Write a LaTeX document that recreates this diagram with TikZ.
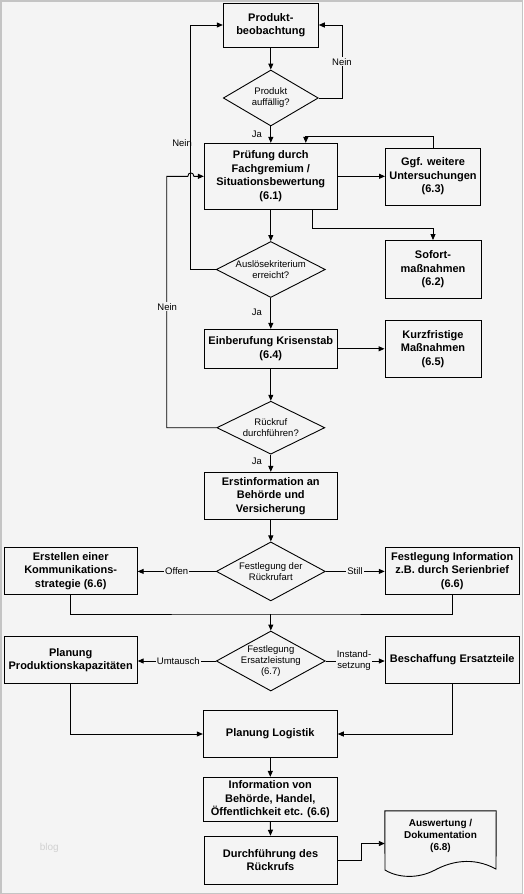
\documentclass[tikz,border=0pt]{standalone}
\usepackage{fontspec}
\setmainfont{Liberation Sans}
\usetikzlibrary{shapes.geometric,arrows.meta,calc}
\definecolor{bg}{HTML}{F4F4F4}
\definecolor{framec}{HTML}{C4C4C4}
\begin{document}
\begin{tikzpicture}[x=1pt,y=-1pt,
 box/.style={draw,line width=0.9pt,align=center,inner sep=1pt,font=\bfseries\fontsize{11}{13.5}\selectfont},
 dia/.style={draw,line width=0.9pt,diamond,inner sep=0pt},
 dtext/.style={align=center,font=\fontsize{9.5}{11}\selectfont,inner sep=0pt},
 lbl/.style={fill=bg,inner sep=1pt,align=center,font=\fontsize{9.5}{11}\selectfont},
 jlbl/.style={inner sep=1pt,anchor=east,font=\fontsize{9.5}{11}\selectfont},
 arr/.style={line width=0.9pt,-{Triangle[length=6pt,width=5pt]}},
 ln/.style={line width=0.9pt}]
\fill[bg] (0,0) rectangle (523,894);
\draw[framec,line width=1.5pt] (0.75,0.75) rectangle (522.25,893.25);
\useasboundingbox (0,0) rectangle (523,894);

\node[text=black!18,font=\fontsize{10}{12}\selectfont] (wm) at (49.3,848.3) {blog};

% nodes
\node[box,minimum width=95pt,minimum height=44pt] (pb) at (270.8,25) {Produkt-\\beobachtung};
\node[dia,minimum width=95pt,minimum height=56pt] (d1) at (270.8,98) {};
\node[dtext] (d1t) at (d1) {Produkt\\auffällig?};
\node[box,minimum width=133pt,minimum height=66pt] (pf) at (270.8,176.3) {Prüfung durch\\Fachgremium /\\Situationsbewertung\\(6.1)};
\node[box,minimum width=95pt,minimum height=57pt] (ggf) at (433,176.6) {Ggf. weitere\\Untersuchungen\\(6.3)};
\node[box,minimum width=96pt,minimum height=58pt] (sof) at (433,269.5) {Sofort-\\maßnahmen\\(6.2)};
\node[dia,minimum width=109pt,minimum height=56pt] (d2) at (270.8,269.5) {};
\node[dtext] (d2t) at (d2) {Auslösekriterium\\erreicht?};
\node[box,minimum width=133pt,minimum height=39pt] (ek) at (270.8,348.8) {Einberufung Krisenstab\\(6.4)};
\node[box,minimum width=96pt,minimum height=57pt] (kurz) at (433,349) {Kurzfristige\\Maßnahmen\\(6.5)};
\node[dia,minimum width=108pt,minimum height=53pt] (d3) at (270.8,427.7) {};
\node[dtext] (d3t) at (d3) {Rückruf\\durchführen?};
\node[box,minimum width=133pt,minimum height=47pt] (ei) at (270.8,495.8) {Erstinformation an\\Behörde und\\Versicherung};
\node[dia,minimum width=109pt,minimum height=59pt] (d4) at (270.8,571.4) {};
\node[dtext] (d4t) at (d4) {Festlegung der\\Rückrufart};
\node[box,minimum width=133pt,minimum height=47pt] (kom) at (70.7,570.7) {Erstellen einer\\Kommunikations-\\strategie (6.6)};
\node[box,minimum width=134pt,minimum height=47pt] (fi) at (452.2,570.7) {Festlegung Information\\z.B. durch Serienbrief\\(6.6)};
\coordinate (m1) at (270.8,614);
\node[dia,minimum width=109pt,minimum height=60pt] (d5) at (270.8,661) {};
\node[dtext] (d5t) at (d5) {Festlegung\\Ersatzleistung\\(6.7)};
\node[box,minimum width=133pt,minimum height=47pt] (ppk) at (70.7,660) {Planung\\Produktionskapazitäten};
\node[box,minimum width=134pt,minimum height=47pt] (be) at (452.2,660) {Beschaffung Ersatzteile};
\node[box,minimum width=134pt,minimum height=47pt] (pl) at (270.3,734) {Planung Logistik};
\node[box,minimum width=134pt,minimum height=44pt] (inf) at (270.3,799.3) {Information von\\Behörde, Handel,\\Öffentlichkeit etc. (6.6)};
\node[box,minimum width=133pt,minimum height=48pt] (df) at (270.5,860.2) {Durchführung des\\Rückrufs};
\node[minimum width=111pt,minimum height=65pt,inner sep=0pt] (doc) at (440.5,843.5) {};
\draw[ln] (doc.north west) -- (doc.north east) -- (496,869)
  .. controls (472,856) and (450,862) .. (435,870)
  .. controls (418,879) and (398,878) .. (385,870) -- cycle;
\node[font=\bfseries\fontsize{10}{12}\selectfont,align=center,inner sep=0pt] (doct) at (440.5,836) {Auswertung /\\Dokumentation\\(6.8)};

% connectors
\draw[arr] (pb.south) -- (d1.north);
\draw[arr] (d1.east) -- ++(24,0) |- (pb.east);
\node[lbl] (n1) at (342,61.7) {Nein};
\draw[arr] (d1.south) -- (pf.north);
\node[jlbl] (ja1) at (263,134) {Ja};
\draw[arr] (pf.east) -- (pf.east -| ggf.west);
\draw[arr] (ggf.north) -- ++(0,-11.6) -| ([xshift=35pt]pf.north);
\draw[arr] ([xshift=41.5pt]pf.south) -- ++(0,19) -| (sof.north);
\draw[arr] (pf.south) -- (d2.north);
\draw[arr] (d2.west) -- ++(-25.3,0) |- (pb.west);
\node[jlbl] (n2) at (193,142.7) {Nein};
\draw[arr] (d2.south) -- (ek.north);
\node[jlbl] (ja2) at (263,312.7) {Ja};
\draw[arr] (ek.east) -- (ek.east -| kurz.west);
\draw[arr] (ek.south) -- (d3.north);
\draw[arr] (d3.west) -- ++(-49.6,0) |- ([xshift=-16pt]pf.west)
  .. controls +(0,-4.5) and +(0,-4.5) .. ++(6,0) -- (pf.west);
\node[lbl] (n3) at (167.2,306.7) {Nein};
\draw[arr] (d3.south) -- (ei.north);
\node[jlbl] (ja3) at (263,461.7) {Ja};
\draw[arr] (ei.south) -- (d4.north);
\draw[arr] (d4.west) -- (d4.west -| kom.east);
\node[lbl] (off) at (176.7,571.4) {Offen};
\draw[arr] (d4.east) -- (d4.east -| fi.west);
\node[lbl] (still) at (355,571.4) {Still};
\draw[ln] (kom.south) |- (m1) -| (fi.south);
\draw[arr] (m1) -- (d5.north);
\draw[arr] (d5.west) -- (d5.west -| ppk.east);
\node[lbl] (umt) at (178.3,661) {Umtausch};
\draw[arr] (d5.east) -- (d5.east -| be.west);
\node[lbl] (inst) at (354,661) {Instand-\\setzung};
\draw[arr] (ppk.south) |- (pl.west);
\draw[arr] (be.south) |- (pl.east);
\draw[arr] (pl.south) -- (inf.north);
\draw[arr] (inf.south) -- (df.north);
\draw[arr] (df.east) -- ++(24,0) |- (doc.west);
\end{tikzpicture}
\end{document}
